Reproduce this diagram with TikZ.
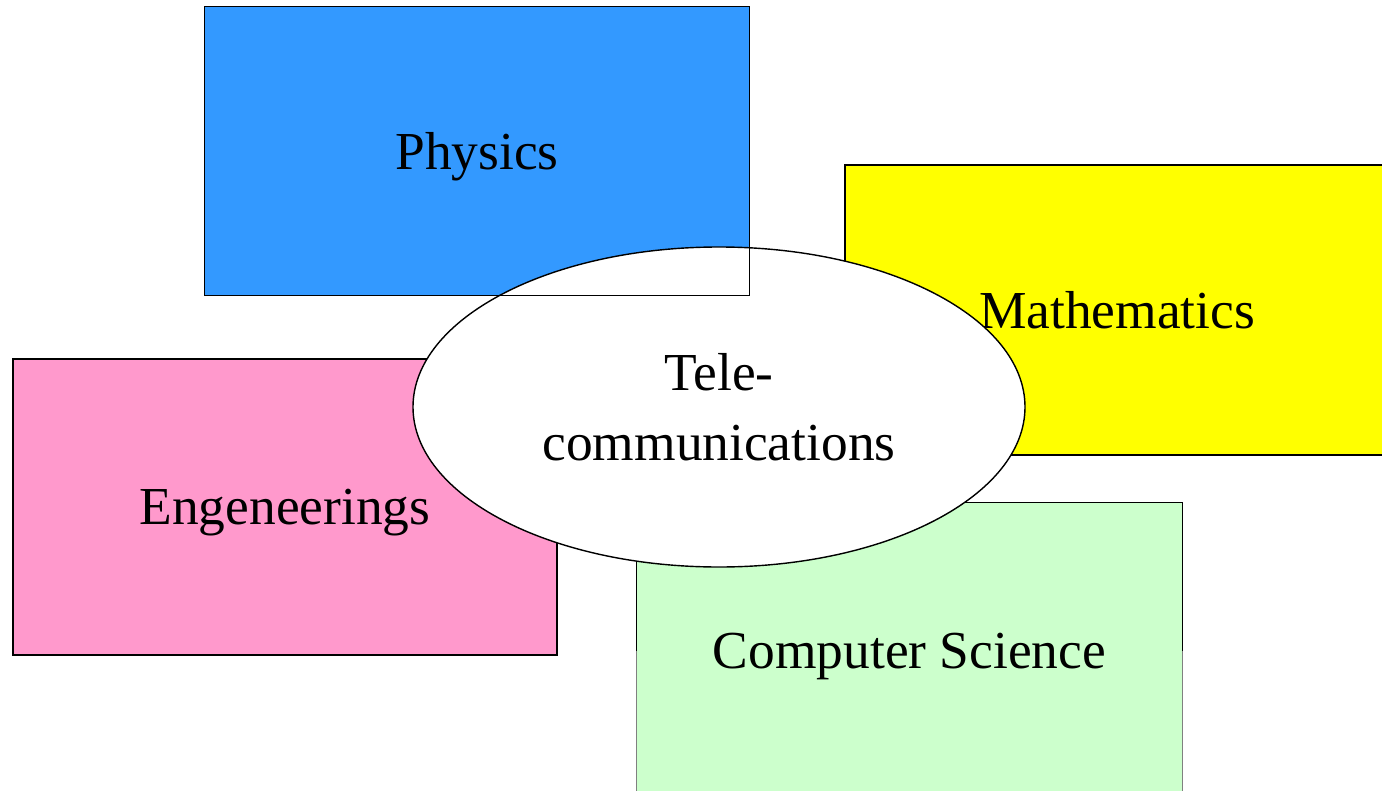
\documentclass[tikz,border=0pt]{standalone}
\usepackage{fontspec}
\setmainfont{Liberation Serif}
\usepackage{xcolor}
\usetikzlibrary{shapes.geometric}

\definecolor{physblue}{HTML}{3399FF}
\definecolor{mathyellow}{HTML}{FFFF00}
\definecolor{engpink}{HTML}{FF99CC}
\definecolor{csgreen}{HTML}{CCFFCC}

\begin{document}
\begin{tikzpicture}[
  field/.style={rectangle, minimum width=5.44cm, minimum height=2.9cm, inner sep=0pt, text depth=0pt},
  core/.style={ellipse, draw, fill=white, minimum width=6.12cm, minimum height=3.2cm, inner sep=0pt, align=center},
  every node/.style={font=\fontsize{15.2}{18}\selectfont}
]
  \useasboundingbox (0,0) rectangle (13.82,7.9);
  \clip (0,0) rectangle (13.82,7.9);

  \node[field, fill=physblue, minimum height=2.88cm] (phys) at (4.77,6.39) {Physics};
  \node[field, draw, fill=mathyellow] (math) at (11.17,4.80) {Mathematics};
  \node[field, draw, fill=engpink, minimum height=2.96cm] (eng) at (2.85,2.83) {Engeneerings};
  \node[field, fill=csgreen, minimum width=5.45cm, minimum height=2.96cm] (cs) at (9.095,1.39) {Computer Science};
  \draw (cs.west) -- (cs.north west) -- (cs.north east) -- (cs.east);
  \draw[gray] (cs.west) -- (cs.south west);
  \draw[gray] (cs.east) -- (cs.south east);

  \node[core] (tele) at (7.19,3.83) {Tele-\\[2pt]communications};

  % the physics frame stays on top of the ellipse
  \draw (phys.north west) rectangle (phys.south east);
\end{tikzpicture}
\end{document}
